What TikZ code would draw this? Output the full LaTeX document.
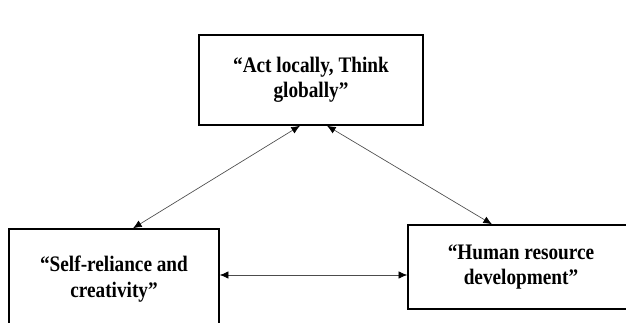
\documentclass[tikz,border=0pt]{standalone}
\usepackage{fontspec}
\setmainfont{Liberation Serif}
\newfontfamily\boxfont[FakeStretch=0.87]{Liberation Serif}
\usetikzlibrary{arrows.meta}
\begin{document}
\begin{tikzpicture}[
  x=0.75pt, y=-0.75pt,
  blk/.style={draw, line width=1.1pt, rectangle, align=center, inner sep=2pt,
              font=\boxfont\bfseries\fontsize{16.6}{19}\selectfont},
  arr/.style={<->, line width=0.5pt, draw=black!70,
              >={Latex[length=6.5pt, width=5.5pt, black]}}
]
\useasboundingbox (0,0) rectangle (626,322);
\node[blk, minimum width=168pt, minimum height=67.5pt] (top) at (311, 80)  {“Act locally, Think\\globally”};
\node[blk, minimum width=157.5pt, minimum height=75pt] (lft) at (114, 279) {“Self-reliance and\\creativity”};
\node[blk, minimum width=169.5pt, minimum height=63pt] (rgt) at (521, 267) {“Human resource\\development”};
\draw[arr] ([xshift=-8.25pt]top.south) -- ([xshift=14.25pt]lft.north);
\draw[arr] ([xshift=12pt]top.south) -- ([xshift=-21.75pt]rgt.north);
\draw[arr] ([yshift=3pt]lft.east) -- ([yshift=-6pt]rgt.west);
\end{tikzpicture}
\end{document}
